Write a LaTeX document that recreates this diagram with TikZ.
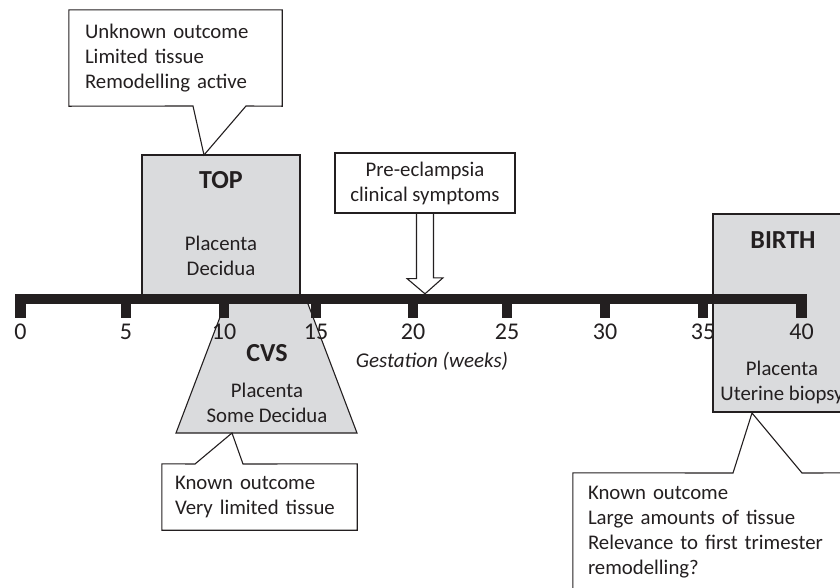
\documentclass[tikz,border=0pt]{standalone}
\usepackage{fontspec}
\setmainfont{Carlito}
\usepackage{xcolor}
\usetikzlibrary{positioning}
\definecolor{ink}{RGB}{35,31,32}
\definecolor{boxgray}{RGB}{218,219,221}
\tikzset{
	period/.style={draw=ink, line width=1.1pt, fill=boxgray, inner sep=0pt}, % grey sampling windows
	title/.style={font=\bfseries\fontsize{26}{30}\selectfont, text=ink}, % TOP, CVS, BIRTH
	body/.style={font=\fontsize{20.8}{25}\selectfont, text=ink, align=center},
	note/.style={font=\fontsize{20.8}{25}\selectfont, text=ink, align=left, inner ysep=0pt}, % callout text
	outline/.style={draw=ink, line width=1.1pt},
	week/.style={font=\fontsize{24}{28}\selectfont, text=ink},
}
\begin{document}
\begin{tikzpicture}[x=1pt, y=-1pt]
			\useasboundingbox (0,0) rectangle (840,587);
			\clip (0,0) rectangle (840,587);
			
			% Sampling windows
			\node[period, minimum width=158, minimum height=144] (top) at (221,227) {};
			\draw[period] (226.5,300) -- (306.5,300) -- (357,433) -- (176,433) -- cycle;
			\coordinate (cvs) at (266.5,433);
			\node[period, minimum width=138, minimum height=198] (birth) at (782,313) {};
			
			% Time line
			\node[fill=ink, inner sep=0pt, minimum width=792, minimum height=10] (axis) at (411,299) {};
			\foreach \w/\x in {0/20.5,5/126,10/224,15/316,20/413,25/507,30/605,35/703,40/801.5} {
				\fill[ink] (\x-5.3,300) rectangle (\x+5.3,318);
				\node[week] (w\w) at (\x,332) {\w};
			}
			\node[font=\itshape\fontsize{21}{25}\selectfont, text=ink] (gest) at (432,361) {Gestation (weeks)};
			
			% Window texts
			\node[title] (toptitle) at (221,180) {TOP};
			\node[body] (topbody) at (221,256) {Placenta\\Decidua};
			\node[title] (cvstitle) at (267,353) {CVS};
			\node[body] (cvsbody) at (267,403) {Placenta\\Some Decidua};
			\node[title] (birthtitle) at (783,240) {BIRTH};
			\node[body] (birthbody) at (782,382) {Placenta\\Uterine biopsy};
			
			% Pre-eclampsia arrow
			\node[outline, body, minimum width=180, minimum height=60, inner sep=0pt] (pre) at (425,183) {Pre-eclampsia\\clinical symptoms};
			\coordinate (onset) at (axis.north -| pre.south);
			\draw[outline] ([xshift=-8.5pt]pre.south) -- ++(0,65) -- ++(-9.5,0) -- (onset)
				-- ++(18,-16) -- ++(-9.5,0) -- ([xshift=8.5pt]pre.south);
			
			% Callouts
			\node[note, text width=181, inner xsep=16pt, minimum height=96] (topnote) at (175.5,58)
				{Unknown outcome\\Limited tissue\\Remodelling active};
			\coordinate (toptip) at (204,155);
			\draw[outline] (topnote.north west) -- (topnote.north east) -- (topnote.south east)
				-- (246,106) -- (toptip) -- (193,106) -- (topnote.south west) -- cycle;
			
			\node[note, text width=169, inner xsep=13pt, minimum height=66] (cvsnote) at (259.5,497)
				{Known outcome\\Very limited tissue};
			\coordinate (cvstip) at (232,433);
			\draw[outline] (cvsnote.north west) -- (195,464) -- (cvstip) -- (243,464)
				-- (cvsnote.north east) -- (cvsnote.south east) -- (cvsnote.south west) -- cycle;
			
			\node[note, text width=270, inner xsep=15pt, minimum height=118] (birthnote) at (723,532)
				{Known outcome\\Large amounts of tissue\\Relevance to first trimester\\remodelling?};
			\coordinate (birthtip) at (752,413);
			\draw[outline] (birthnote.north west) -- (733,473) -- (birthtip) -- (802,473)
				-- (birthnote.north east) -- (birthnote.south east) -- (birthnote.south west) -- cycle;
		\end{tikzpicture}
\end{document}
